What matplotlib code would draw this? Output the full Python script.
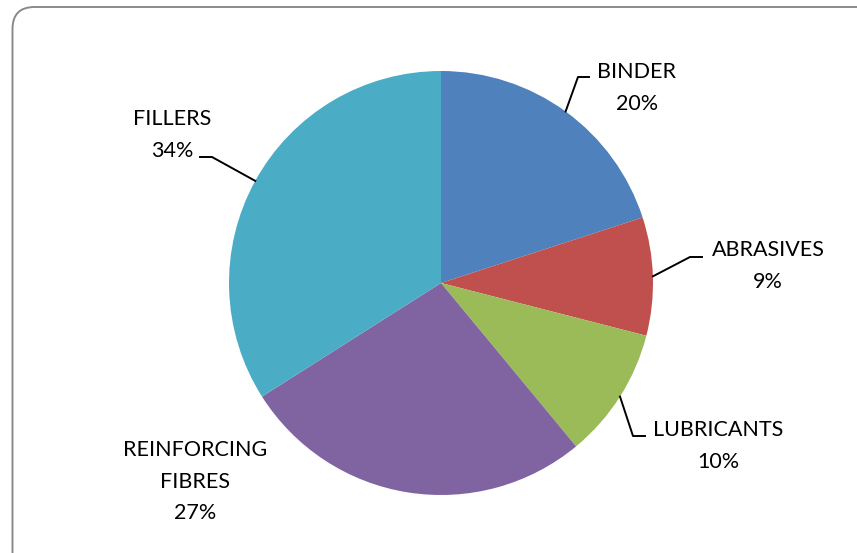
import numpy as np
import matplotlib.pyplot as plt
from matplotlib.patches import FancyBboxPatch

# Data
categories = ["BINDER", "ABRASIVES", "LUBRICANTS", "REINFORCING\nFIBRES", "FILLERS"]
shares = [20, 9, 10, 27, 34]
colors = ["#4F81BD", "#C0504D", "#9BBB59", "#8064A2", "#4BACC6"]

# Layout (pixel space, y up)
W, H = 857, 553
cx, cy, R = 441, 270, 212

# elbow of leader line, end of horizontal tick, text top centre
leaders = {
    0: ((578, 476), (589, 476), (637, 491)),
    1: ((690, 296), (702, 296), (768, 313)),
    2: ((633, 117), (645, 117), (718, 133)),
    3: (None, None, (195, 113)),
    4: ((212, 396), (200, 396), (172, 444)),
}

plt.rcParams["font.family"] = ["Lato", "DejaVu Sans"]

fig = plt.figure(figsize=(W / 100, H / 100), dpi=100)
ax = fig.add_axes([0, 0, 1, 1])

# chart frame
frame = FancyBboxPatch((12.5, -40), 900, 586, boxstyle="round,pad=0,rounding_size=22",
                       facecolor="white", edgecolor="#8a8a8a", linewidth=1.4, zorder=0)
ax.add_patch(frame)

wedges, _ = ax.pie(shares, colors=colors, startangle=90, counterclock=False,
                   center=(cx, cy), radius=R, frame=True,
                   wedgeprops=dict(linewidth=0))
ax.set_xlim(0, W)
ax.set_ylim(0, H)
ax.set_aspect("equal")
ax.axis("off")

cum = np.cumsum(shares) - np.array(shares) / 2
for i, (cat, val) in enumerate(zip(categories, shares)):
    ang = np.radians(90 - cum[i] / sum(shares) * 360)
    ex, ey = cx + R * np.cos(ang), cy + R * np.sin(ang)
    elbow, tick, txt = leaders[i]
    if elbow is not None:
        ax.plot([ex, elbow[0], tick[0]], [ey, elbow[1], tick[1]],
                color="black", linewidth=1.4, zorder=3)
    ax.text(txt[0], txt[1], f"{cat}\n{val}%", ha="center", va="top",
            fontsize=15.5, linespacing=1.72, color="black", zorder=4)

fig.savefig("out.png", dpi=100)
